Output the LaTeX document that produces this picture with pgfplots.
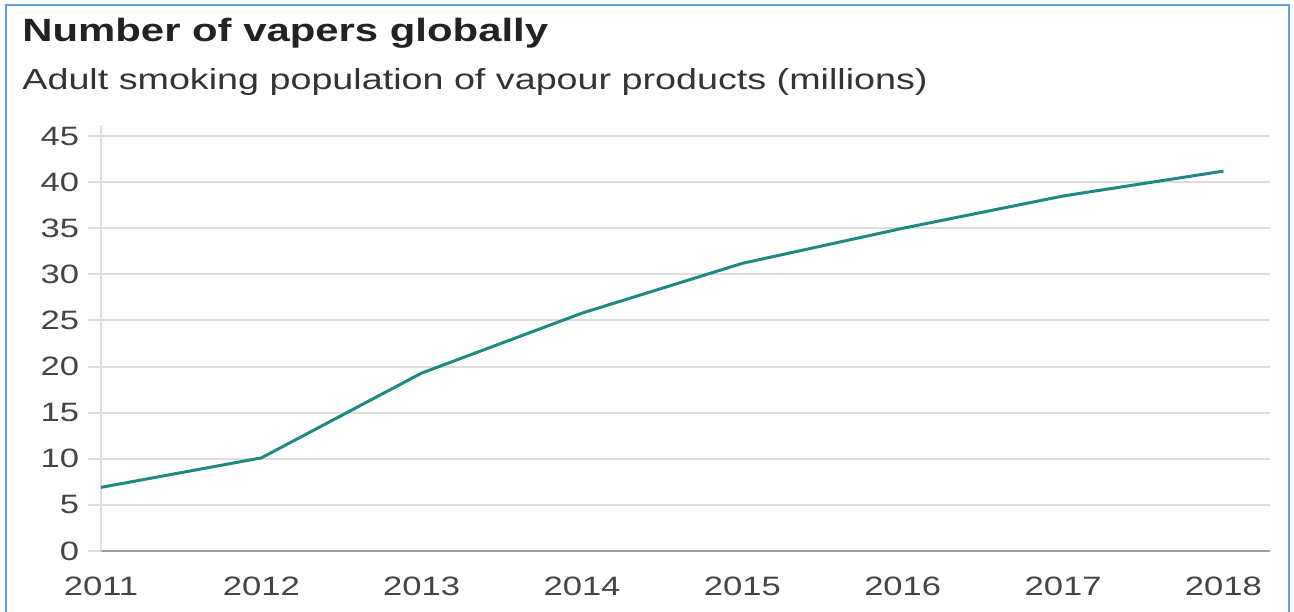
\documentclass[border=0pt]{standalone}
\usepackage{fontspec}
\setmainfont[FakeStretch=1.3]{Liberation Sans}
\usepackage{pgfplots}
\pgfplotsset{compat=1.18}
\definecolor{lineteal}{RGB}{32,136,131}
\definecolor{gridgray}{RGB}{221,221,221}
\definecolor{axisgray}{RGB}{160,160,160}
\definecolor{framecol}{RGB}{100,160,225}
\definecolor{titlecol}{RGB}{34,34,34}
\definecolor{subcol}{RGB}{51,51,51}
\definecolor{tickcol}{RGB}{68,68,68}
\begin{document}
\begin{tikzpicture}[x=1pt,y=1pt]
\useasboundingbox (0,0) rectangle (647,305.5);
\draw[framecol, line width=1pt] (3,-2) -- (3,303) -- (644.5,303) -- (644.5,-2);
\node[anchor=base west, inner sep=0pt, text=titlecol, font=\bfseries\fontsize{16.1}{19}\selectfont] at (11,284.7) {Number of vapers globally};
\node[anchor=base west, inner sep=0pt, text=subcol, font=\fontsize{14.5}{17}\selectfont] at (11,260.5) {Adult smoking population of vapour products (millions)};
\begin{axis}[
  at={(50.5pt,30pt)}, anchor=south west,
  scale only axis, width=584.5pt, height=213pt,
  xmin=2011, xmax=2018.29, ymin=0, ymax=46.2,
  axis lines=left, axis line style={-},
  x axis line style={color=axisgray, line width=1pt},
  y axis line style={color=gridgray, line width=1.2pt},
  ytick={0,5,...,45},
  xtick={2011,...,2018},
  ymajorgrids, grid style={color=gridgray, line width=1pt},
  tick align=outside, major tick length=6.5pt,
  ytick style={color=gridgray, line width=1pt},
  xtick style={draw=none},
  ticklabel style={font=\fontsize{13.3}{16}\selectfont, text=tickcol},
  /pgf/number format/assume math mode=true,
  xticklabel style={/pgf/number format/1000 sep={}, yshift=-3pt},
  yticklabel style={xshift=-1pt},
  clip=false,
]
\addplot[color=lineteal, line width=1.5pt, mark=none] coordinates {
(2011,6.9) (2012,10.1) (2013,19.3) (2014,25.8) (2015,31.2) (2016,35.0) (2017,38.5) (2018,41.2)
};
\end{axis}
\end{tikzpicture}
\end{document}
